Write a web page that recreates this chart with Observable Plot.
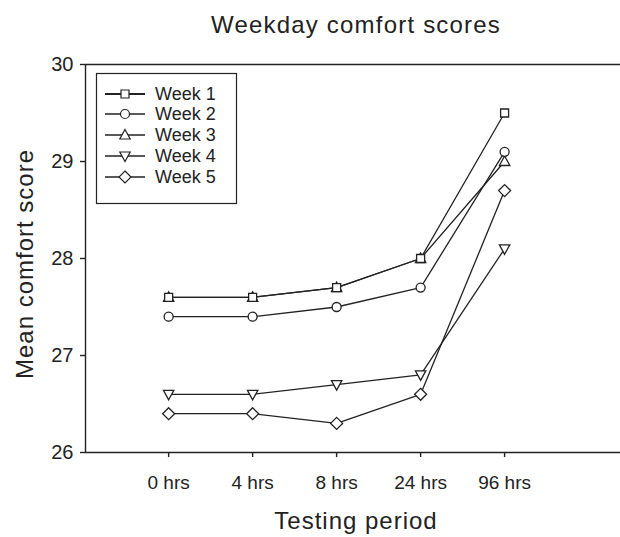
<!DOCTYPE html>
<html>
<head>
<meta charset="utf-8">
<script src="https://cdn.jsdelivr.net/npm/d3@7"></script>
<script src="https://cdn.jsdelivr.net/npm/@observablehq/plot@0.6"></script>
<style>
  html, body { margin: 0; padding: 0; background: #fff; }
  svg { font-family: "Liberation Sans", Arial, sans-serif; }
</style>
</head>
<body>
<div id="chart"></div>
<script>
// ---- data ----
const periods = ["0 hrs", "4 hrs", "8 hrs", "24 hrs", "96 hrs"];
const seriesNames = ["Week 1", "Week 2", "Week 3", "Week 4", "Week 5"];
const week1 = [27.6, 27.6, 27.7, 28.0, 29.5];
const week2 = [27.4, 27.4, 27.5, 27.7, 29.1];
const week3 = [27.6, 27.6, 27.7, 28.0, 29.0];
const week4 = [26.6, 26.6, 26.7, 26.8, 28.1];
const week5 = [26.4, 26.4, 26.3, 26.6, 28.7];
const yTicks = [26, 27, 28, 29, 30];
const titleText = "Weekday comfort scores";
const xTitle = "Testing period";
const yTitle = "Mean comfort score";

// ---- symbols ----
function poly(pts) {
  return { draw(ctx, size) {
    const k = Math.sqrt(size / Math.PI) / 4.5;
    ctx.moveTo(pts[0][0] * k, pts[0][1] * k);
    for (let i = 1; i < pts.length; i++) ctx.lineTo(pts[i][0] * k, pts[i][1] * k);
    ctx.closePath();
  }};
}
const symSquare = poly([[-4, -4], [4, -4], [4, 4], [-4, 4]]);
const symCircle = { draw(ctx, size) { const r = Math.sqrt(size / Math.PI); ctx.moveTo(r, 0); ctx.arc(0, 0, r, 0, 2 * Math.PI); } };
const symTriUp = poly([[0, -5.5], [5.2, 4], [-5.2, 4]]);
const symTriDown = poly([[0, 5.5], [5.2, -4], [-5.2, -4]]);
const symDiamond = poly([[0, -6], [6, 0], [0, 6], [-6, 0]]);
const symbols = [symSquare, symCircle, symTriUp, symTriDown, symDiamond];
const allSeries = [week1, week2, week3, week4, week5];

const data = [];
seriesNames.forEach((name, s) => {
  allSeries[s].forEach((v, i) => data.push({ week: name, idx: i, period: periods[i], value: v }));
});

const ink = "#222";
const xDomain = [-0.99, 5.38];
const yDomain = [26, 30];

const marks = [
  Plot.ruleY([yDomain[1]], { stroke: ink, strokeWidth: 1.4 }),
  Plot.ruleY([yDomain[0]], { stroke: ink, strokeWidth: 1.4 }),
  Plot.ruleX([xDomain[0]], { stroke: ink, strokeWidth: 1.4 }),
  Plot.axisY({ ticks: yTicks, tickFormat: "d", tickSize: 5, tickPadding: 7, fontSize: 20, stroke: ink, color: ink, label: null, strokeWidth: 1.4 }),
  Plot.axisX({ ticks: d3.range(periods.length), tickFormat: (i) => periods[i], tickSize: 5, tickPadding: 18, fontSize: 19, color: ink, label: null, strokeWidth: 1.4 })
];
// draw in reverse order so week 1 is on top
for (let s = seriesNames.length - 1; s >= 0; s--) {
  const d = data.filter(r => r.week === seriesNames[s]);
  marks.push(Plot.line(d, { x: "idx", y: "value", stroke: ink, strokeWidth: 1.3 }));
  marks.push(Plot.dot(d, { x: "idx", y: "value", symbol: symbols[s], r: 4.5, fill: "white", stroke: ink, strokeWidth: 1.3 }));
}

const chart = Plot.plot({
  width: 620,
  height: 537,
  marginLeft: 85,
  marginRight: 0,
  marginTop: 64,
  marginBottom: 85,
  style: { fontFamily: "Liberation Sans, Arial, sans-serif", color: ink, background: "white" },
  x: { domain: xDomain, axis: null },
  y: { domain: yDomain, axis: null },
  marks
});

const svg = d3.select(chart);
svg.append("text").attr("x", 356).attr("y", 33).attr("text-anchor", "middle")
  .attr("font-size", 24).attr("letter-spacing", 1.2).attr("fill", ink).text(titleText);
svg.append("text").attr("x", 356).attr("y", 529).attr("text-anchor", "middle")
  .attr("font-size", 24).attr("letter-spacing", 1).attr("fill", ink).text(xTitle);
svg.append("text").attr("transform", "translate(33,264) rotate(-90)").attr("text-anchor", "middle")
  .attr("font-size", 24).attr("letter-spacing", 1).attr("fill", ink).text(yTitle);

// legend
const lg = svg.append("g").attr("text-anchor", "start");
lg.append("rect").attr("x", 96.5).attr("y", 73.5).attr("width", 140).attr("height", 130)
  .attr("fill", "white").attr("stroke", ink).attr("stroke-width", 1.2);
const rowY = [94, 114, 135, 156, 177];
seriesNames.forEach((name, s) => {
  const y = rowY[s];
  lg.append("line").attr("x1", 105).attr("x2", 145).attr("y1", y).attr("y2", y)
    .attr("stroke", ink).attr("stroke-width", s === 0 ? 1.8 : 1.3);
  lg.append("path").attr("transform", `translate(125,${y})`)
    .attr("d", d3.symbol(symbols[s], Math.PI * 4.5 * 4.5)())
    .attr("fill", "white").attr("stroke", ink).attr("stroke-width", 1.2);
  lg.append("text").attr("x", 155).attr("y", y).attr("dy", "0.35em").attr("text-anchor", "start")
    .attr("font-size", 18).attr("fill", ink).text(name);
});

document.getElementById("chart").appendChild(chart);
</script>
</body>
</html>
